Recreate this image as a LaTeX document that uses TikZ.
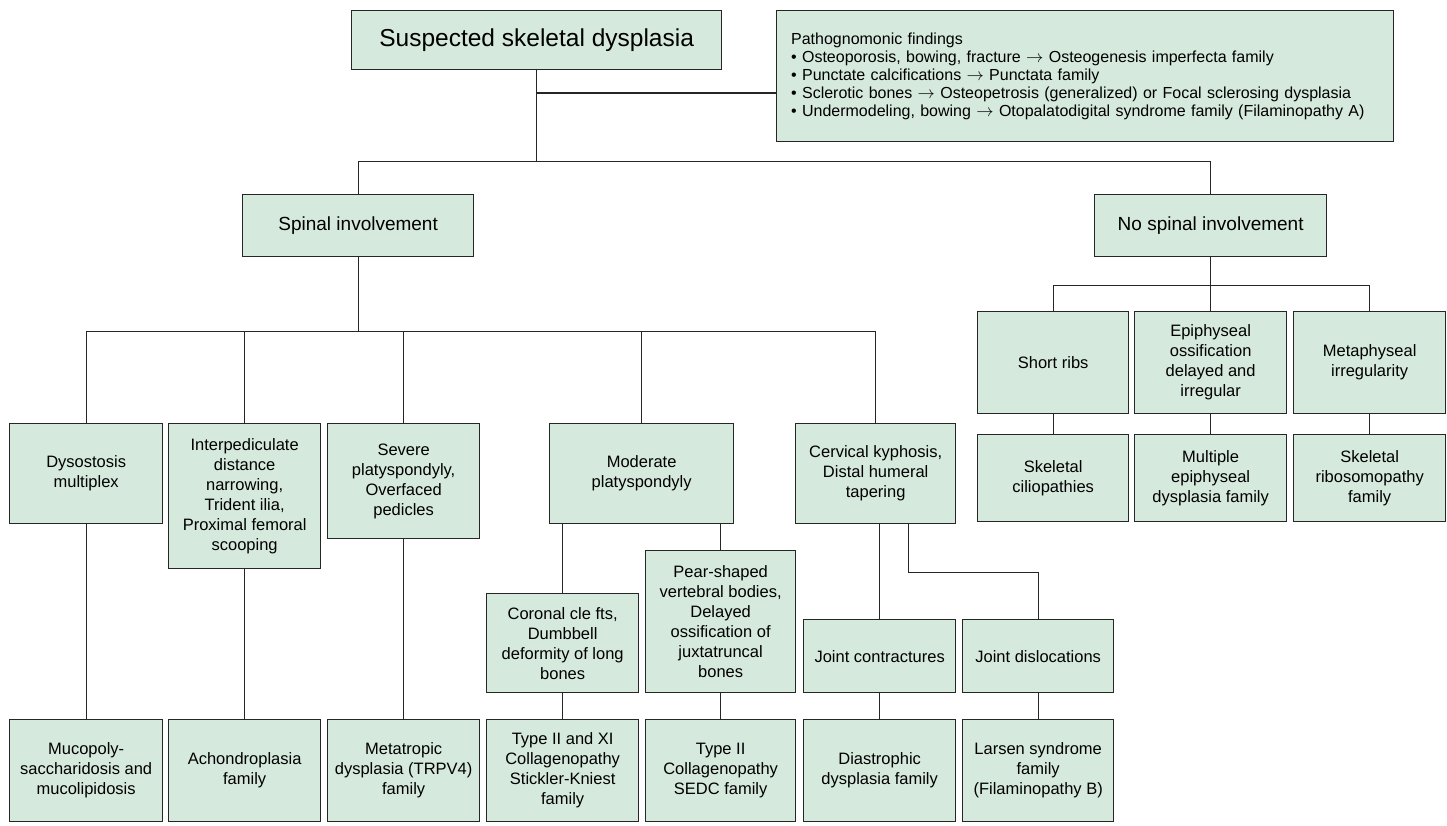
\documentclass[tikz,border=0pt]{standalone}
\usepackage{fontspec}
\setmainfont{Liberation Sans}
\usetikzlibrary{calc}
\definecolor{boxgreen}{RGB}{214,233,221}
\definecolor{edgegray}{RGB}{38,38,38}

\begin{document}
\begin{tikzpicture}[x=1pt, y=-1pt,
    box/.style={draw=edgegray, line width=1.3pt, fill=boxgreen, anchor=north west,
                inner sep=0pt, align=center, font=\fontsize{16.5}{20}\selectfont},
    bigbox/.style={box, font=\fontsize{19}{23}\selectfont},
    wire/.style={draw=edgegray, line width=1.3pt}]
    \useasboundingbox (0,0) rectangle (1447,825);

    \node[box, minimum width=370pt, minimum height=59pt, font=\fontsize{24.5}{28}\selectfont] (root) at (351,10) {Suspected skeletal dysplasia};
    \node[box, minimum width=617pt, minimum height=131pt, text width=588pt, align=left, font=\fontsize{16}{18}\selectfont] (patho) at (776,10)
        {Pathognomonic findings\\
         \textbullet\ Osteoporosis, bowing, fracture $\rightarrow$ Osteogenesis imperfecta family\\
         \textbullet\ Punctate calcifications $\rightarrow$ Punctata family\\
         \textbullet\ Sclerotic bones $\rightarrow$ Osteopetrosis (generalized) or Focal sclerosing dysplasia\\
         \textbullet\ Undermodeling, bowing $\rightarrow$ Otopalatodigital syndrome family (Filaminopathy A)};

    \node[bigbox, minimum width=231pt, minimum height=62pt] (spinal) at (242,194) {Spinal involvement};
    \node[bigbox, minimum width=232pt, minimum height=62pt] (nospinal) at (1094,194) {No spinal involvement};

    \node[box, minimum width=153pt, minimum height=100pt] (dys) at (9,423) {Dysostosis\\multiplex};
    \node[box, minimum width=152pt, minimum height=145pt] (interped) at (168,423) {Interpediculate\\distance\\narrowing,\\Trident ilia,\\Proximal femoral\\scooping};
    \node[box, minimum width=152pt, minimum height=115pt] (severe) at (327,423) {Severe\\platyspondyly,\\Overfaced\\pedicles};
    \node[box, minimum width=184pt, minimum height=100pt] (moderate) at (549,423) {Moderate\\platyspondyly};
    \node[box, minimum width=160pt, minimum height=100pt] (cervical) at (795,423) {Cervical kyphosis,\\Distal humeral\\tapering};

    \node[box, minimum width=152pt, minimum height=99pt] (coronal) at (486,593) {Coronal cle fts,\\Dumbbell\\deformity of long\\bones};
    \node[box, minimum width=150pt, minimum height=142pt] (pear) at (645,550) {Pear-shaped\\vertebral bodies,\\Delayed\\ossification of\\juxtatruncal\\bones};
    \node[box, minimum width=152pt, minimum height=73pt] (contract) at (803,619) {Joint contractures};
    \node[box, minimum width=151pt, minimum height=73pt] (disloc) at (962,619) {Joint dislocations};

    \node[box, minimum width=153pt, minimum height=102pt] (muco) at (9,719) {Mucopoly-\\saccharidosis and\\mucolipidosis};
    \node[box, minimum width=152pt, minimum height=102pt] (achon) at (168,719) {Achondroplasia\\family};
    \node[box, minimum width=152pt, minimum height=102pt] (metat) at (327,719) {Metatropic\\dysplasia (TRPV4)\\family};
    \node[box, minimum width=152pt, minimum height=102pt] (typexi) at (486,719) {Type II and XI\\Collagenopathy\\Stickler-Kniest\\family};
    \node[box, minimum width=150pt, minimum height=102pt] (typeii) at (645,719) {Type II\\Collagenopathy\\SEDC family};
    \node[box, minimum width=152pt, minimum height=102pt] (diast) at (803,719) {Diastrophic\\dysplasia family};
    \node[box, minimum width=151pt, minimum height=102pt] (larsen) at (962,719) {Larsen syndrome\\family\\(Filaminopathy B)};

    \node[box, minimum width=151pt, minimum height=102pt] (shortribs) at (977,311) {Short ribs};
    \node[box, minimum width=152pt, minimum height=102pt] (epiph) at (1134,311) {Epiphyseal\\ossification\\delayed and\\irregular};
    \node[box, minimum width=152pt, minimum height=102pt] (metaph) at (1293,311) {Metaphyseal\\irregularity};
    \node[box, minimum width=151pt, minimum height=87pt] (cilio) at (977,434) {Skeletal\\ciliopathies};
    \node[box, minimum width=152pt, minimum height=87pt] (mep) at (1134,434) {Multiple\\epiphyseal\\dysplasia family};
    \node[box, minimum width=152pt, minimum height=87pt] (ribo) at (1293,434) {Skeletal\\ribosomopathy\\family};

    \draw[wire] (root.south) -- ++(0,91) coordinate (topsplit);
    \draw[wire] (root.south |- 0,93) -- (patho.west |- 0,93);
    \draw[wire] (topsplit) -| (spinal.north);
    \draw[wire] (topsplit) -| (nospinal.north);

    \draw[wire] (spinal.south) -- ++(0,74) coordinate (leftsplit);
    \foreach \n in {dys,interped,severe,moderate,cervical}
        \draw[wire] (leftsplit) -| (\n.north);

    \draw[wire] (nospinal.south) -- ++(0,28) coordinate (rightsplit);
    \foreach \n in {shortribs,epiph,metaph}
        \draw[wire] (rightsplit) -| (\n.north);

    \draw[wire] (coronal.north) -- (coronal.north |- moderate.south);
    \draw[wire] (pear.north) -- (pear.north |- moderate.south);
    \draw[wire] (contract.north) -- (contract.north |- cervical.south);
    \draw[wire] ([xshift=33pt]cervical.south) -- ++(0,48) -| (disloc.north);

    \foreach \a/\b in {dys/muco,interped/achon,severe/metat,coronal/typexi,pear/typeii,contract/diast,disloc/larsen,shortribs/cilio,epiph/mep,metaph/ribo}
        \draw[wire] (\a.south) -- (\a.south |- \b.north);
\end{tikzpicture}
\end{document}
